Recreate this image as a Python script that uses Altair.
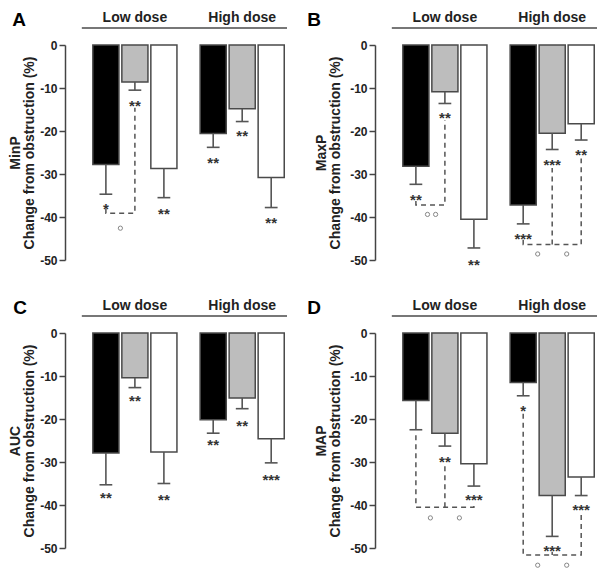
import altair as alt
import pandas as pd

FONT = "Liberation Sans"

# ---------------- data ----------------
GROUPS = ["Low dose", "High dose"]
TREAT = ["black", "gray", "white"]
TREAT_COLORS = ["#000000", "#bdbdbd", "#ffffff"]
Y_TICKS = [0, -10, -20, -30, -40, -50]

# order of bars: low black, low gray, low white, high black, high gray, high white
minp_mean = [-27.8, -8.6, -28.7, -20.6, -14.8, -30.8]
minp_err = [-34.7, -10.5, -35.5, -23.8, -17.8, -37.8]
minp_stars = ["*", "**", "**", "**", "**", "**"]
minp_star_y = [-37.2, -13.3, -38.3, -26.4, -20.3, -40.5]
minp_brackets = [[(0, -38.0), (0, -39.1), (1, -39.1), (1, -14.6)]]
minp_circles = [(0.5, -42.6)]

maxp_mean = [-28.2, -10.9, -40.5, -37.2, -20.5, -18.3]
maxp_err = [-32.4, -13.6, -47.2, -41.6, -24.3, -22.1]
maxp_stars = ["**", "**", "**", "***", "***", "**"]
maxp_star_y = [-35.2, -16.0, -50.2, -44.1, -27.0, -24.7]
maxp_brackets = [[(0, -36.3), (0, -37.2), (1, -37.2), (1, -17.5)],
                 [(3, -45.3), (3, -46.4), (5, -46.4), (5, -26.4)],
                 [(4, -46.4), (4, -28.6)]]
maxp_circles = [(0.4, -39.4), (0.68, -39.4), (3.5, -48.6), (4.5, -48.6)]

auc_mean = [-27.9, -10.4, -27.7, -20.2, -15.1, -24.6]
auc_err = [-35.3, -12.7, -35.0, -23.3, -17.6, -30.2]
auc_stars = ["**", "**", "**", "**", "**", "***"]
auc_star_y = [-37.4, -14.9, -37.8, -25.2, -20.7, -33.3]
auc_brackets = []
auc_circles = []

map_mean = [-15.7, -23.3, -30.4, -11.5, -37.8, -33.5]
map_err = [-22.5, -26.3, -35.6, -14.6, -47.3, -37.8]
map_stars = ["", "**", "***", "*", "***", "***"]
map_star_y = [-25.0, -29.0, -37.9, -17.2, -49.7, -40.3]
map_brackets = [[(0, -23.8), (0, -40.5), (2, -40.5), (2, -39.4)],
                [(1, -40.5), (1, -31.0)],
                [(3, -18.8), (3, -51.6), (5, -51.6), (5, -41.6)],
                [(4, -51.6), (4, -50.9)]]
map_circles = [(0.5, -43.0), (1.5, -43.0), (3.5, -54.0), (4.5, -54.0)]

GROUP_GAP = 0.7
X_DOMAIN = [-1.41, 6.245]
HEADER_LINE = [-0.83, 6.245]
PANEL_W = 222
PANEL_H = 215


def pos(s):
    return s + (GROUP_GAP if s >= 2.75 else 0.0)


xs = alt.Scale(domain=X_DOMAIN, nice=False, zero=False)
ys = alt.Scale(domain=[-50, 0], nice=False, zero=False)

LABEL_EXPR = "datum.value < 0 ? '-' + format(-datum.value, 'd') : format(datum.value, 'd')"


def panel(letter, name, means, errs, stars, star_y, brackets, circles,
          letter_dx, title_pad):
    yaxis = alt.Axis(values=Y_TICKS, title=[name, "Change from obstruction (%)"],
                     titlePadding=title_pad, labelExpr=LABEL_EXPR)
    bars = pd.DataFrame({
        "slot": list(range(6)),
        "treat": TREAT * 2,
        "mean": means,
        "err": errs,
        "star": stars,
        "star_y": star_y,
    })
    bars["x"] = bars["slot"].map(pos)
    bars["x0"] = bars["x"] - 0.45
    bars["x1"] = bars["x"] + 0.45
    bars["t0"] = bars["x"] - 0.22
    bars["t1"] = bars["x"] + 0.22
    bars["zero"] = 0.0

    X = lambda f: alt.X(f, type="quantitative", scale=xs, axis=None)
    Y = lambda f: alt.Y(f, type="quantitative", scale=ys, axis=yaxis)

    layers = []
    layers.append(alt.Chart(bars).mark_bar(stroke="#4a4a4a", strokeWidth=1.5).encode(
        x=X("x0"), x2="x1", y=Y("zero"), y2="mean",
        fill=alt.Fill("treat:N", scale=alt.Scale(domain=TREAT, range=TREAT_COLORS),
                      legend=None)))
    layers.append(alt.Chart(bars).mark_rule(color="#555555", strokeWidth=1.6).encode(
        x=X("x"), y=Y("mean"), y2="err"))
    layers.append(alt.Chart(bars).mark_rule(color="#555555", strokeWidth=1.6).encode(
        x=X("t0"), x2="t1", y=Y("err")))
    sb = bars[bars["star"] != ""]
    layers.append(alt.Chart(sb).mark_text(
        font=FONT, fontSize=15, fontWeight="bold", color="#333333",
        baseline="middle", dy=4).encode(
        x=X("x"), y=Y("star_y"), text="star:N"))

    if brackets:
        rows = []
        for bi, br in enumerate(brackets):
            for oi, (s, v) in enumerate(br):
                rows.append({"id": bi, "ord": oi, "bx": pos(s), "by": v})
        bdf = pd.DataFrame(rows)
        layers.append(alt.Chart(bdf).mark_line(
            color="#555555", strokeWidth=1.5, strokeDash=[5, 4]).encode(
            x=X("bx"), y=Y("by"), detail="id:N", order="ord:Q"))
    if circles:
        cdf = pd.DataFrame({"cx": [c[0] + (GROUP_GAP if c[0] >= 2.75 else 0.0) for c in circles],
                            "cy": [c[1] for c in circles]})
        layers.append(alt.Chart(cdf).mark_point(
            shape="circle", filled=False, size=18, color="#555555", strokeWidth=1).encode(
            x=X("cx"), y=Y("cy")))

    hdf = pd.DataFrame({"label": GROUPS, "hx": [pos(1), pos(4)]})
    layers.append(alt.Chart(hdf).mark_text(
        font=FONT, fontSize=14, fontWeight="bold", color="#222222",
        baseline="top").encode(
        x=X("hx"), y=alt.value(-34.5), text="label:N"))
    ldf = pd.DataFrame({"l0": [HEADER_LINE[0]], "l1": [HEADER_LINE[1]]})
    layers.append(alt.Chart(ldf).mark_rule(color="#777777", strokeWidth=2).encode(
        x=X("l0"), x2="l1", y=alt.value(-17)))
    pdf = pd.DataFrame({"letter": [letter]})
    layers.append(alt.Chart(pdf).mark_text(
        font=FONT, fontSize=19, fontWeight="bold", color="#000000",
        align="center", baseline="top").encode(
        x=alt.value(letter_dx), y=alt.value(-34), text="letter:N"))

    return alt.layer(*layers).properties(width=PANEL_W, height=PANEL_H)


pA = panel("A", "MinP", minp_mean, minp_err, minp_stars, minp_star_y,
           minp_brackets, minp_circles, -46, 3)
pB = panel("B", "MaxP", maxp_mean, maxp_err, maxp_stars, maxp_star_y,
           maxp_brackets, maxp_circles, -61, 7)
pC = panel("C", "AUC", auc_mean, auc_err, auc_stars, auc_star_y,
           auc_brackets, auc_circles, -45, 3)
pD = panel("D", "MAP", map_mean, map_err, map_stars, map_star_y,
           map_brackets, map_circles, -61, 7)

chart = alt.vconcat(
    alt.hconcat(pA, pB, spacing=19),
    alt.hconcat(pC, pD, spacing=19),
    spacing=25,
).properties(
    padding={"top": 2, "left": 0, "right": 0, "bottom": 0}
).configure_view(stroke=None).configure_axis(
    labelFont=FONT, labelFontSize=12, labelFontWeight="bold", labelColor="#222222",
    labelPadding=2, domainColor="#444444", domainWidth=1.5, tickColor="#444444",
    tickWidth=1.5, tickSize=6, grid=False,
    titleFont=FONT, titleFontSize=14, titleFontWeight="bold", titleColor="#222222",
    titleLineHeight=14,
)

chart.save("out.html", embed_options={"renderer": "svg", "actions": False})
